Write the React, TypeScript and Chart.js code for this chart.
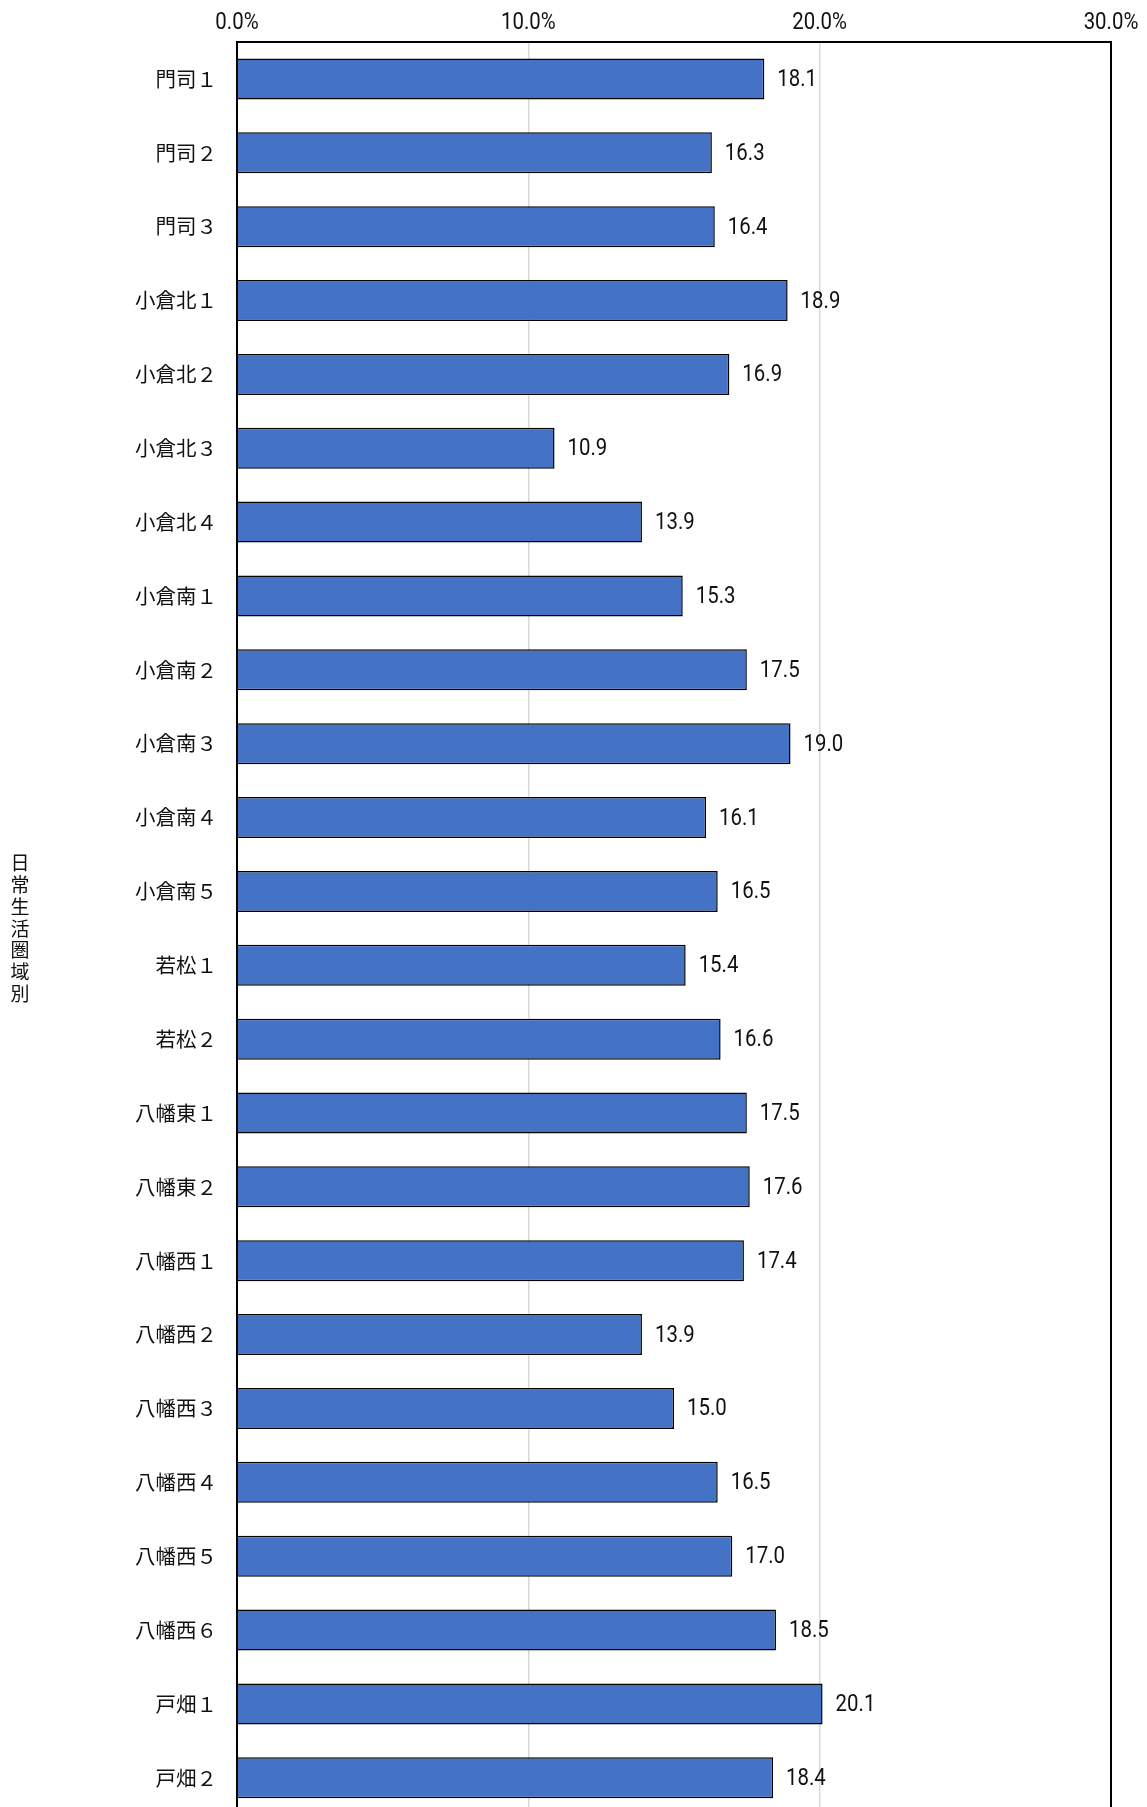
import React, { useEffect, useRef } from "react";
import { Chart, registerables } from "chart.js";

Chart.register(...registerables);

const categories = [
  "門司１", "門司２", "門司３",
  "小倉北１", "小倉北２", "小倉北３", "小倉北４",
  "小倉南１", "小倉南２", "小倉南３", "小倉南４", "小倉南５",
  "若松１", "若松２",
  "八幡東１", "八幡東２",
  "八幡西１", "八幡西２", "八幡西３", "八幡西４", "八幡西５", "八幡西６",
  "戸畑１", "戸畑２",
];

const values = [
  18.1, 16.3, 16.4,
  18.9, 16.9, 10.9, 13.9,
  15.3, 17.5, 19.0, 16.1, 16.5,
  15.4, 16.6,
  17.5, 17.6,
  17.4, 13.9, 15.0, 16.5, 17.0, 18.5,
  20.1, 18.4,
];

const axisTitle = "日常生活圏域別";
const xMin = 0;
const xMax = 30;
const xStep = 10;

const NUMFONT = 'Roboto, "Noto Sans", sans-serif';
const CJK = '"Noto Sans CJK JP", "Noto Sans", sans-serif';
const SQUEEZE = 0.85;

const W = 1147;
const H = 1847;

function drawCondensed(ctx: CanvasRenderingContext2D, text: string, x: number, y: number, align: "left" | "center") {
  ctx.save();
  ctx.translate(x, y);
  ctx.scale(SQUEEZE, 1);
  ctx.textAlign = align;
  ctx.fillText(text, 0, 0);
  ctx.restore();
}

export default function App() {
  const ref = useRef<HTMLCanvasElement | null>(null);

  useEffect(() => {
    if (!ref.current) return;

    const frame = {
      id: "frame",
      afterDraw(chart: any) {
        const { ctx, chartArea } = chart;
        ctx.save();
        ctx.strokeStyle = "#000";
        ctx.lineWidth = 2;
        ctx.strokeRect(chartArea.left, chartArea.top, chartArea.right - chartArea.left, chartArea.bottom - chartArea.top);
        ctx.restore();
      },
    };

    const valueLabels = {
      id: "valueLabels",
      afterDatasetsDraw(chart: any) {
        const { ctx } = chart;
        const meta = chart.getDatasetMeta(0);
        ctx.save();
        ctx.font = `24px ${NUMFONT}`;
        ctx.fillStyle = "#111";
        ctx.textBaseline = "middle";
        meta.data.forEach((bar: any, i: number) => {
          drawCondensed(ctx, values[i].toFixed(1), bar.x + 13, bar.y + 1, "left");
        });
        ctx.restore();
      },
    };

    const xTickLabels = {
      id: "xTickLabels",
      afterDraw(chart: any) {
        const { ctx } = chart;
        const sx = chart.scales.x;
        ctx.save();
        ctx.font = `24px ${NUMFONT}`;
        ctx.fillStyle = "#111";
        ctx.textBaseline = "alphabetic";
        sx.ticks.forEach((t: any) => {
          const px = sx.getPixelForValue(t.value);
          drawCondensed(ctx, Number(t.value).toFixed(1) + "%", px, 29, "center");
        });
        ctx.restore();
      },
    };

    const yTitle = {
      id: "yTitle",
      afterDraw(chart: any) {
        const { ctx, chartArea } = chart;
        const chars = Array.from(axisTitle);
        const pitch = 21.8;
        const cy = (chartArea.top + chartArea.bottom) / 2;
        const start = cy - ((chars.length - 1) * pitch) / 2;
        ctx.save();
        ctx.font = `19px ${CJK}`;
        ctx.fillStyle = "#111";
        ctx.textAlign = "center";
        ctx.textBaseline = "middle";
        chars.forEach((c, i) => ctx.fillText(c, 20, start + i * pitch));
        ctx.restore();
      },
    };

    const chart = new Chart(ref.current, {
      type: "bar",
      data: {
        labels: categories,
        datasets: [
          {
            data: values,
            backgroundColor: "#4472C4",
            borderColor: "#000",
            borderWidth: 1.5,
            barPercentage: 0.555,
            categoryPercentage: 1,
          },
        ],
      },
      options: {
        indexAxis: "y",
        responsive: false,
        animation: false,
        devicePixelRatio: 1,
        layout: { padding: { left: 0, right: 36, top: 0, bottom: 17 } },
        plugins: {
          legend: { display: false },
          tooltip: { enabled: false },
          title: { display: false },
        },
        scales: {
          x: {
            position: "top",
            min: xMin,
            max: xMax,
            ticks: {
              stepSize: xStep,
              display: false,
            },
            grid: {
              drawTicks: false,
              color: (c: any) => (c.tick && (c.tick.value === xMin || c.tick.value === xMax) ? "rgba(0,0,0,0)" : "#d9d9d9"),
              lineWidth: 1.5,
            },
            border: { display: false },
            afterFit: (s: any) => {
              s.height = 42;
            },
          },
          y: {
            ticks: {
              padding: 20,
              color: "#111",
              font: { family: CJK, size: 20.5 },
            },
            grid: { display: false, drawTicks: false },
            border: { display: false },
            afterFit: (s: any) => {
              s.width = 237;
            },
          },
        },
      },
      plugins: [valueLabels, frame, xTickLabels, yTitle],
    });

    return () => chart.destroy();
  }, []);

  return (
    <div style={{ position: "absolute", left: 0, top: 0, width: W, height: 1807, overflow: "hidden", background: "#fff" }}>
      <canvas ref={ref} width={W} height={H} style={{ display: "block", width: W, height: H }} />
    </div>
  );
}
